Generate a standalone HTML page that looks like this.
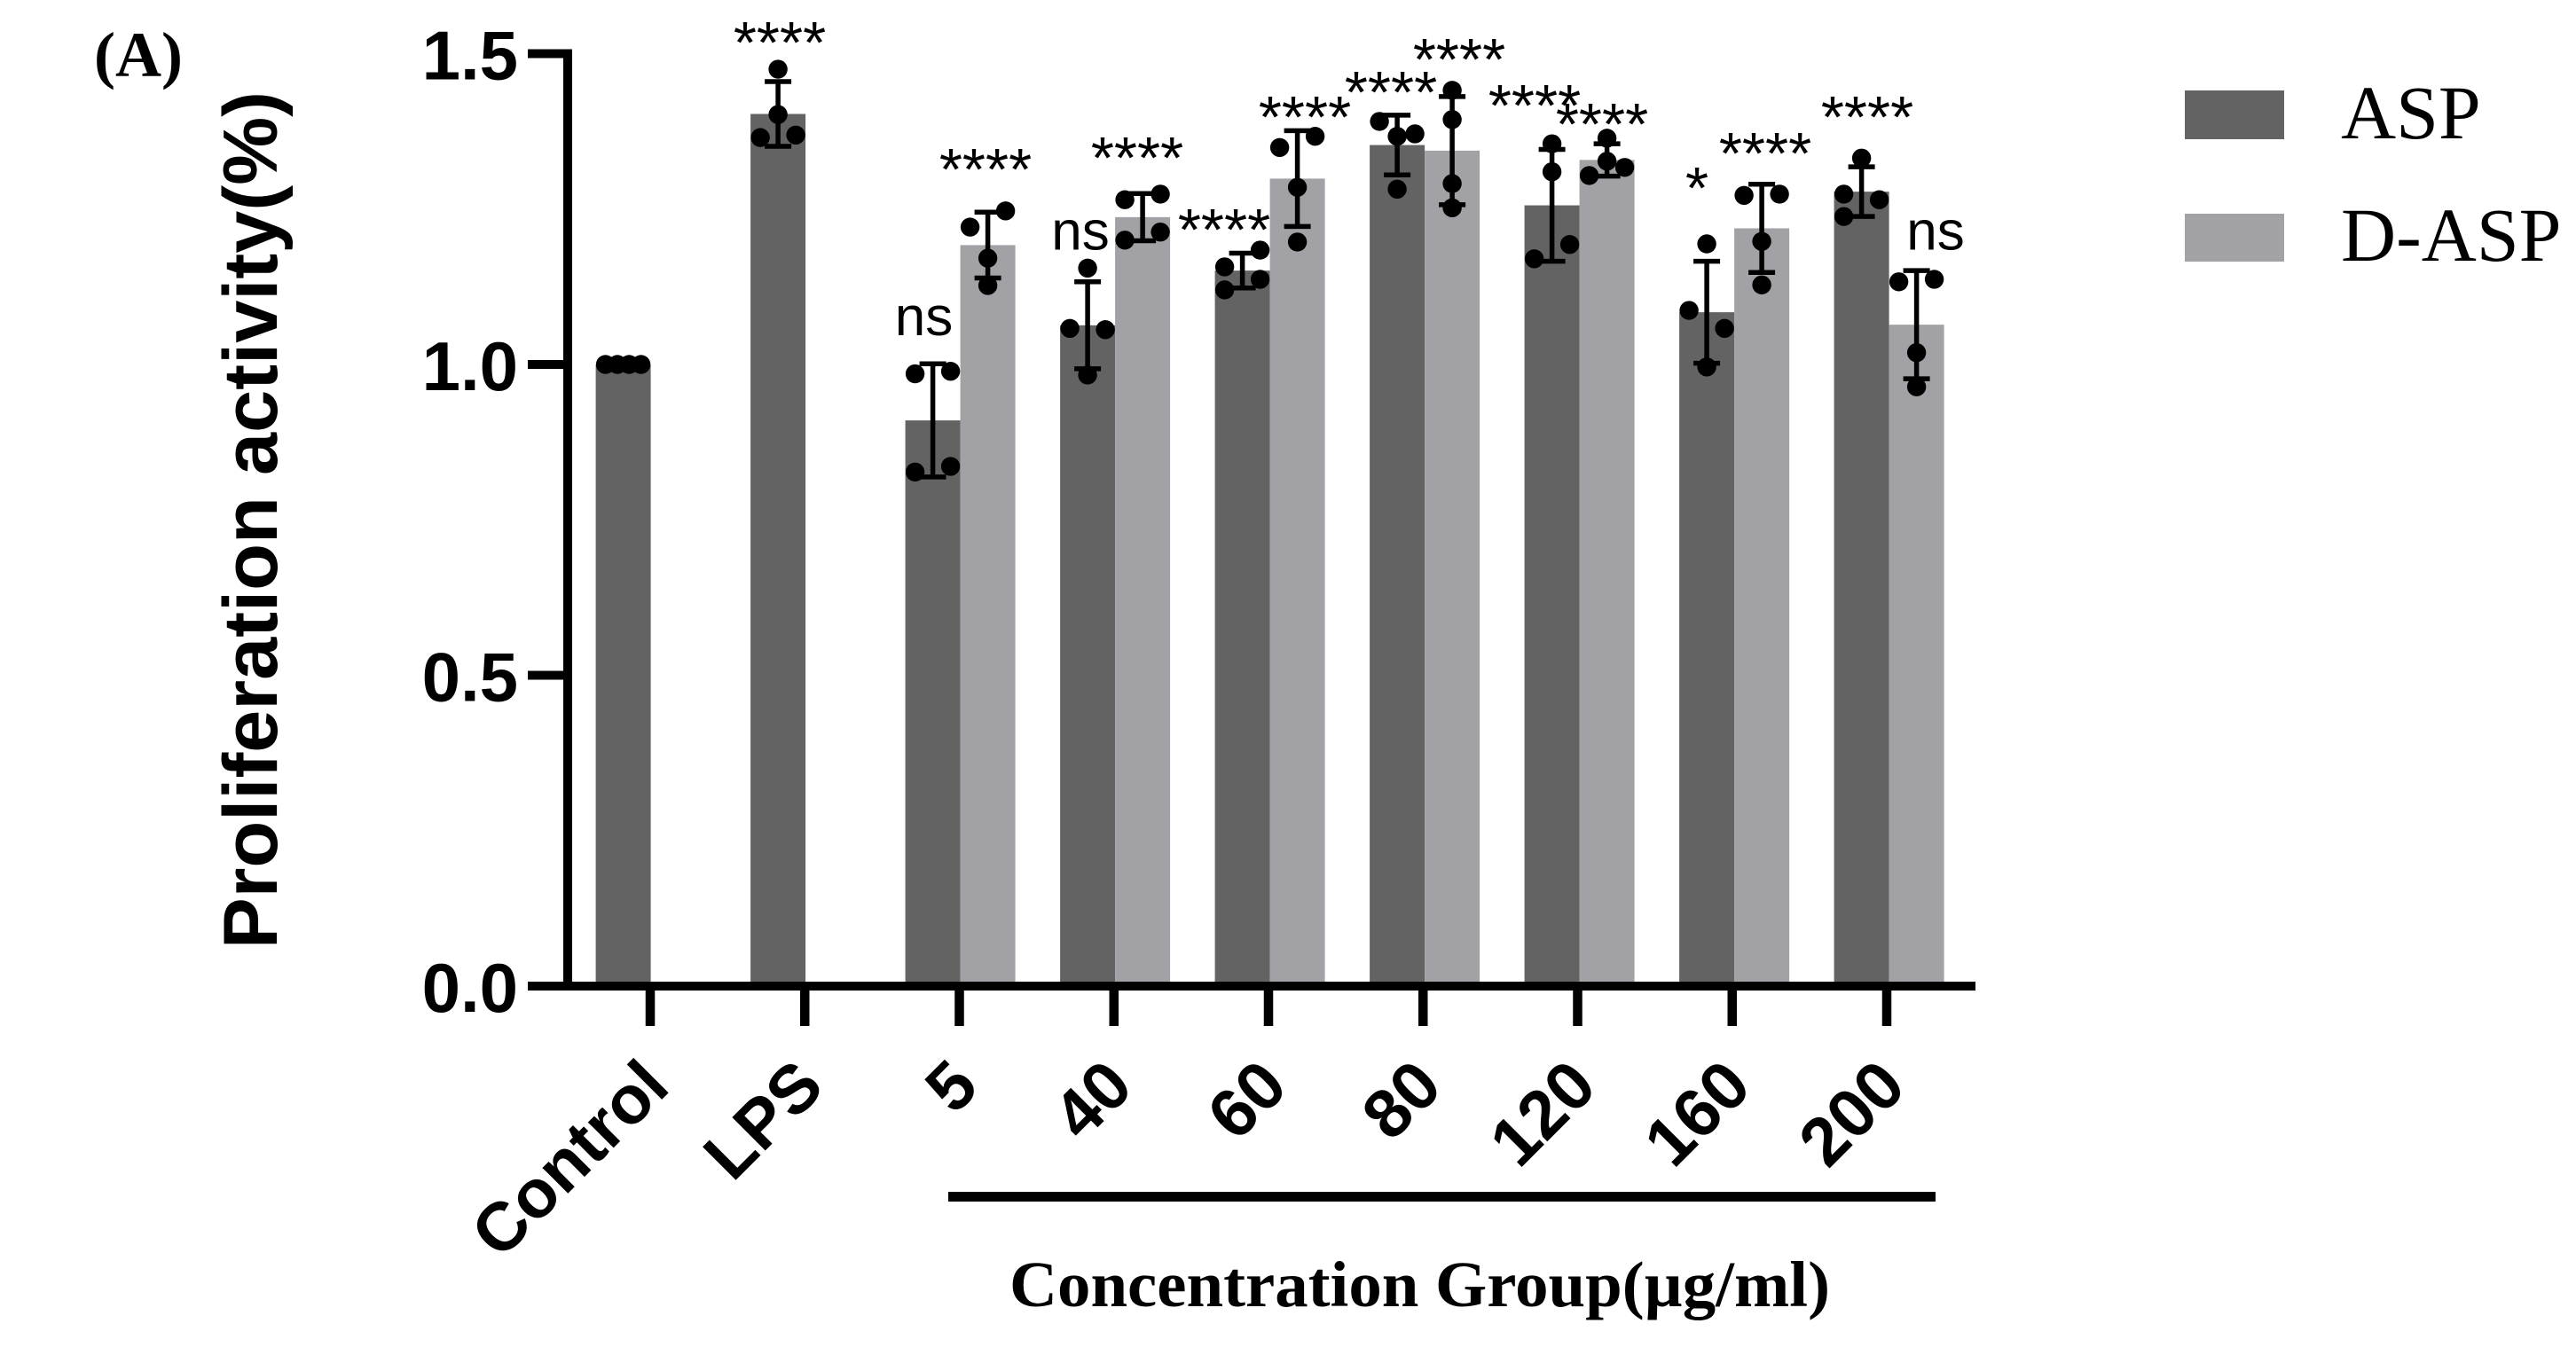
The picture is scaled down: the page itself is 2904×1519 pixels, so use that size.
<!DOCTYPE html>
<html lang="en">
<head>
<meta charset="utf-8">
<title>Proliferation activity chart</title>
<style>
  html, body { margin: 0; padding: 0; background: #ffffff; }
  svg { display: block; }
  .sans { font-family: "Liberation Sans", Arial, sans-serif; }
  .serif { font-family: "Liberation Serif", "Times New Roman", serif; }
</style>
</head>
<body>
<svg id="chart" xmlns="http://www.w3.org/2000/svg" width="2904" height="1519" viewBox="0 0 2904 1519">
  <rect x="0" y="0" width="2904" height="1519" fill="#ffffff"/>
  <text class="serif" x="106" y="86" font-size="72" font-weight="700" fill="#000">(A)</text>
  <text class="sans" transform="translate(312 1070) rotate(-90)" font-size="86.5" font-weight="700" fill="#000" textLength="967" lengthAdjust="spacing">Proliferation activity(%)</text>
  <g id="plot"></g>
  <g class="sans" fill="#000" text-anchor="middle">
    <text x="879" y="71" font-size="67">****</text>
    <text x="1041.5" y="378" font-size="62">ns</text>
    <text x="1111" y="214" font-size="67">****</text>
    <text x="1218" y="281.5" font-size="62">ns</text>
    <text x="1282" y="201" font-size="67">****</text>
    <text x="1380" y="282" font-size="67">****</text>
    <text x="1471" y="155" font-size="67">****</text>
    <text x="1568" y="127" font-size="67">****</text>
    <text x="1645" y="90" font-size="67">****</text>
    <text x="1730" y="142" font-size="67">****</text>
    <text x="1806" y="163" font-size="67">****</text>
    <text x="1913" y="235" font-size="67">*</text>
    <text x="1990" y="196" font-size="67">****</text>
    <text x="2105" y="155" font-size="67">****</text>
    <text x="2182" y="281.5" font-size="62">ns</text>
  </g>
  <rect x="1069" y="1344" width="1113" height="11" fill="#000"/>
  <text class="serif" x="1138" y="1473" font-size="73" font-weight="700" fill="#000" textLength="925" lengthAdjust="spacingAndGlyphs">Concentration Group(µg/ml)</text>
  <g>
    <rect x="2463" y="102" width="112" height="55" fill="#636363"/>
    <text class="serif" x="2639" y="156" font-size="86" fill="#000">ASP</text>
    <rect x="2463" y="241" width="112" height="54" fill="#a2a1a5"/>
    <text class="serif" x="2639" y="294" font-size="86" fill="#000">D-ASP</text>
  </g>
</svg>
<script>
// ---- chart data ----
const categories = ['Control', 'LPS', '5', '40', '60', '80', '120', '160', '200'];
const yTicks = [0, 0.5, 1, 1.5];
const yTickLabels = ['0.0', '0.5', '1.0', '1.5'];

const aspMeans = [1.000, 1.403, 0.910, 1.063, 1.151, 1.353, 1.256, 1.084, 1.278];
const dAspMeans = [null, null, 1.192, 1.237, 1.299, 1.344, 1.329, 1.219, 1.064];

const aspSd = [0, 0.052, 0.091, 0.070, 0.028, 0.048, 0.090, 0.082, 0.040];
const dAspSd = [null, null, 0.053, 0.038, 0.077, 0.087, 0.026, 0.071, 0.087];

const aspReplicates = [
  [1, 1, 1, 1],
  [1.475, 1.402, 1.365, 1.369],
  [0.985, 0.989, 0.827, 0.836],
  [1.155, 1.058, 1.056, 0.983],
  [1.157, 1.184, 1.137, 1.120],
  [1.391, 1.371, 1.367, 1.282],
  [1.355, 1.310, 1.193, 1.170],
  [1.194, 1.087, 1.058, 0.996],
  [1.332, 1.274, 1.265, 1.238]
];
const dAspReplicates = [
  null,
  null,
  [1.221, 1.247, 1.171, 1.127],
  [1.265, 1.274, 1.213, 1.200],
  [1.349, 1.367, 1.285, 1.197],
  [1.441, 1.394, 1.291, 1.252],
  [1.364, 1.327, 1.317, 1.304],
  [1.272, 1.274, 1.198, 1.128],
  [1.133, 1.137, 1.019, 0.964]
];
// swarm slot of each replicate: -1 left, 0 centre, 1 right
const aspSlots = [
  [-1, -0.33, 0.33, 1],
  [0, 0, -1, 1],
  [-1, 1, -1, 1],
  [0, -1, 1, 0],
  [-1, 1, 1, -1],
  [-1, 1, 0, 0],
  [0, 0, 1, -1],
  [0, -1, 1, 0],
  [0, -1, 1, -1]
];
const dAspSlots = [
  null,
  null,
  [-1, 1, 0, 0],
  [-1, 1, 1, -1],
  [-1, 1, 0, 0],
  [0, 0, 0, 0],
  [0, 0, 1, -1],
  [-1, 1, 0, 0],
  [-1, 1, 0, 0]
];

// ---- axis functions ----
const Y_ZERO = 1112, Y_PER_UNIT = 701;
const BAR_ORIGIN = 733.6, BAR_STEP = 174.5, BAR_W = 62;
const TICK_ORIGIN = 733, TICK_STEP = 174.25, SLOT_W = 20;
const yScale = v => Y_ZERO - v * Y_PER_UNIT;
const xBand = i => BAR_ORIGIN + i * BAR_STEP;
const xTick = i => TICK_ORIGIN + i * TICK_STEP;

const SVG_NS = 'http://www.w3.org/2000/svg';
const plot = document.getElementById('plot');

function draw(tag, props, name, text) {
  const el = document.createElementNS(SVG_NS, tag);
  Object.keys(props).forEach(k => el.setAttribute(k, props[k]));
  
  
  if (text !== undefined) el.textContent = text;
  plot.appendChild(el);
  return el;
}

function drawBars(means, side, color, series) {
  means.forEach((m, i) => {
    if (m === null) return;
    const x = side === 0 ? xBand(i) - BAR_W : xBand(i);
    const top = yScale(m);
    draw('rect', { x: x, y: top, width: BAR_W, height: Y_ZERO - top, fill: color }, 'bar-' + series + '-' + categories[i]);
  });
}

function drawErrors(means, sds, side, series) {
  means.forEach((m, i) => {
    if (m === null || sds[i] === 0) return;
    const cx = xBand(i) + (side === 0 ? -BAR_W / 2 : BAR_W / 2);
    const hi = yScale(m + sds[i]);
    const lo = yScale(m - sds[i]);
    draw('line', { x1: cx, x2: cx, y1: hi, y2: lo, stroke: '#000', 'stroke-width': 5.5 }, 'error-stem-' + series + '-' + categories[i]);
    draw('line', { x1: cx - 15, x2: cx + 15, y1: hi, y2: hi, stroke: '#000', 'stroke-width': 5.5 }, 'error-cap-upper-' + series + '-' + categories[i]);
    draw('line', { x1: cx - 15, x2: cx + 15, y1: lo, y2: lo, stroke: '#000', 'stroke-width': 5.5 }, 'error-cap-lower-' + series + '-' + categories[i]);
  });
}

function drawPoints(reps, slots, side, series) {
  reps.forEach((group, i) => {
    if (group === null) return;
    const cx = xBand(i) + (side === 0 ? -BAR_W / 2 : BAR_W / 2);
    group.forEach((v, j) => {
      draw('circle', { cx: cx + slots[i][j] * SLOT_W, cy: yScale(v), r: 10.7, fill: '#000' }, 'point-' + series + '-' + categories[i] + '-' + (j + 1));
    });
  });
}

drawBars(aspMeans, 0, '#636363', 'asp');
drawBars(dAspMeans, 1, '#a2a1a5', 'd-asp');
drawErrors(aspMeans, aspSd, 0, 'asp');
drawErrors(dAspMeans, dAspSd, 1, 'd-asp');
drawPoints(aspReplicates, aspSlots, 0, 'asp');
drawPoints(dAspReplicates, dAspSlots, 1, 'd-asp');

// y axis
draw('line', { x1: 640, x2: 640, y1: yScale(1.5) - 5, y2: Y_ZERO, stroke: '#000', 'stroke-width': 10 }, 'y-axis-line');
yTicks.forEach((t, i) => {
  const y = yScale(t);
  draw('line', { x1: 595, x2: 640, y1: y, y2: y, stroke: '#000', 'stroke-width': 10 }, 'y-tick-' + yTickLabels[i]);
  draw('text', { x: 584, y: y + 29, 'font-size': 78, 'font-weight': 700, 'text-anchor': 'end', fill: '#000', class: 'sans' }, 'y-tick-label-' + yTickLabels[i], yTickLabels[i]);
});

// x axis
draw('line', { x1: 595, x2: 2227, y1: Y_ZERO, y2: Y_ZERO, stroke: '#000', 'stroke-width': 10 }, 'x-axis-line');
categories.forEach((c, i) => {
  const x = xTick(i);
  draw('line', { x1: x, x2: x, y1: Y_ZERO, y2: 1157, stroke: '#000', 'stroke-width': 10.5 }, 'x-tick-' + c);
  const lx = x + 24.5, ly = 1228.5;
  draw('text', { x: lx, y: ly, 'font-size': 77, 'font-weight': 700, 'text-anchor': 'end', fill: '#000', class: 'sans', transform: 'rotate(-45 ' + lx + ' ' + ly + ')' }, 'x-tick-label-' + c, c);
});
</script>
</body>
</html>
